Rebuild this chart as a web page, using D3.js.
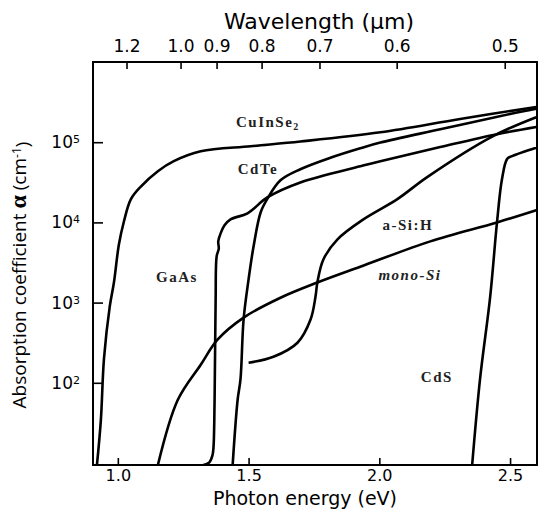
<!DOCTYPE html>
<html>
<head>
<meta charset="utf-8">
<script src="https://cdn.jsdelivr.net/npm/d3@7"></script>
<style>
  body { margin: 0; background: #fff; }
  svg { display: block; }
</style>
</head>
<body>
<svg width="539" height="511"></svg>
<script>
// ticks
var energyTicks = [1.0, 1.5, 2.0, 2.5];
var wavelengthTicks = [1.2, 1.0, 0.9, 0.8, 0.7, 0.6, 0.5];
var alphaTicks = [1e2, 1e3, 1e4, 1e5];
var hc = 1.2398; // eV*um

// curves: [photon energy (eV), alpha (cm^-1)]
var cuInSe2 = [[0.920, 9.4], [0.935, 34], [0.947, 200], [0.969, 890], [0.985, 1780], [1.004, 5300],
  [1.023, 10200], [1.050, 19500], [1.088, 28000], [1.153, 43500], [1.214, 58000], [1.317, 77000],
  [1.508, 89000], [1.698, 102000], [2.004, 133000], [2.309, 195000], [2.60, 275000]];
var gaAs = [[1.325, 9.4], [1.350, 10.2], [1.362, 12.5], [1.366, 16], [1.370, 61], [1.374, 1090],
  [1.378, 3800], [1.386, 4700], [1.384, 5800], [1.393, 7300], [1.408, 9200], [1.431, 10900],
  [1.496, 13000], [1.573, 20600], [1.698, 31500], [1.927, 50000], [2.004, 58000], [2.233, 87000],
  [2.450, 126000], [2.60, 155000]];
var cdTe = [[1.439, 9.4], [1.458, 61], [1.469, 110], [1.481, 620], [1.500, 1950], [1.519, 5000],
  [1.546, 13300], [1.573, 20000], [1.622, 33500], [1.698, 46000], [1.813, 64000], [1.927, 84000],
  [2.004, 99000], [2.233, 145000], [2.500, 225000], [2.60, 262000]];
var aSiH = [[1.500, 178], [1.595, 211], [1.687, 316], [1.737, 615], [1.756, 1190], [1.763, 1780],
  [1.786, 3450], [1.840, 6150], [1.939, 10900], [2.069, 19500], [2.183, 36700], [2.435, 119000],
  [2.60, 205000]];
var monoSi = [[1.153, 9.4], [1.229, 61], [1.317, 168], [1.382, 347], [1.481, 650], [1.622, 1150],
  [1.763, 1780], [1.927, 2800], [2.195, 5800], [2.450, 10000], [2.60, 14200]];
var cdS = [[2.355, 9.4], [2.385, 110], [2.424, 1190], [2.450, 10000], [2.469, 34500], [2.489, 62000],
  [2.508, 67000], [2.60, 85000]];

var curveNames = ["CuInSe2", "GaAs", "CdTe", "a-Si:H", "mono-Si", "CdS"];
var curveData = [cuInSe2, gaAs, cdTe, aSiH, monoSi, cdS];
// label anchor points (eV, cm^-1)
var labelE = [1.574, 1.226, 1.536, 2.109, 2.117, 2.22];
var labelA = [182000, 2110, 46000, 9400, 2240, 119];

var svg = d3.select("svg"),
    plotLeft = 93, plotRight = 537, plotTop = 62, plotBottom = 465;

var x = d3.scaleLinear()
    .domain([0.905, 2.603])
    .range([plotLeft, plotRight]);

var y = d3.scaleLog()
    .domain([Math.pow(10, 0.975), 1e6])
    .range([plotBottom, plotTop]);

svg.append("clipPath").attr("id", "plot")
  .append("rect")
    .attr("x", plotLeft).attr("y", plotTop)
    .attr("width", plotRight - plotLeft).attr("height", plotBottom - plotTop);

var line = d3.line()
    .x(function(d) { return x(d[0]); })
    .y(function(d) { return y(d[1]); })
    .curve(d3.curveCatmullRom.alpha(0.5));

svg.append("g")
    .attr("clip-path", "url(#plot)")
  .selectAll("path")
  .data(curveData)
  .enter().append("path")
    .attr("d", line)
    .attr("fill", "none")
    .attr("stroke", "#000")
    .attr("stroke-width", 2.6)
    .attr("stroke-linejoin", "round");

// frame
svg.append("rect")
    .attr("x", plotLeft).attr("y", plotTop)
    .attr("width", plotRight - plotLeft).attr("height", plotBottom - plotTop)
    .attr("fill", "none")
    .attr("stroke", "#000")
    .attr("stroke-width", 2);

var axisFont = "DejaVu Sans";

var xAxis = d3.axisBottom(x)
    .tickValues(energyTicks)
    .tickFormat(d3.format(".1f"))
    .tickSizeInner(-7)
    .tickSizeOuter(0)
    .tickPadding(5);

var topAxis = d3.axisTop(x)
    .tickValues(wavelengthTicks.map(function(l) { return hc / l; }))
    .tickFormat(function(e) { return d3.format(".1f")(hc / e); })
    .tickSizeInner(-7)
    .tickSizeOuter(0)
    .tickPadding(10);

var yAxis = d3.axisLeft(y)
    .tickValues(alphaTicks)
    .tickSizeInner(-10)
    .tickSizeOuter(0)
    .tickPadding(13);

function styleAxis(g) {
  g.select(".domain").remove();
  g.selectAll(".tick line").attr("stroke", "#000").attr("stroke-width", 1.6);
  g.selectAll(".tick text")
      .attr("fill", "#000")
      .style("font-family", axisFont)
      .style("font-size", "17px");
}

svg.append("g")
    .attr("transform", "translate(0," + plotBottom + ")")
    .call(xAxis)
    .call(styleAxis)
    .call(function(g) { g.selectAll(".tick text").style("font-size", "16px"); });

svg.append("g")
    .attr("transform", "translate(0," + plotTop + ")")
    .call(topAxis)
    .call(styleAxis);

svg.append("g")
    .attr("transform", "translate(" + plotLeft + ",0)")
    .call(yAxis)
    .call(styleAxis)
    .call(function(g) {
      g.selectAll(".tick text").each(function(d) {
        var t = d3.select(this).text(null);
        t.append("tspan").text("10");
        t.append("tspan")
            .attr("dy", "-0.45em")
            .style("font-size", "11px")
            .text(Math.round(Math.log10(d)));
      });
    });

// axis titles
svg.append("text")
    .attr("x", 319).attr("y", 29)
    .attr("text-anchor", "middle")
    .style("font-family", axisFont)
    .style("font-size", "22px")
    .text("Wavelength (\u03bcm)");

svg.append("text")
    .attr("x", 305).attr("y", 505)
    .attr("text-anchor", "middle")
    .style("font-family", axisFont)
    .style("font-size", "19px")
    .text("Photon energy (eV)");

var yTitle = svg.append("text")
    .attr("transform", "translate(26," + 275 + ") rotate(-90)")
    .attr("text-anchor", "middle")
    .style("font-family", "Open Sans")
    .style("font-size", "19px");
yTitle.append("tspan").text("Absorption coefficient ");
yTitle.append("tspan")
    .style("font-family", "Liberation Serif")
    .style("font-weight", "bold")
    .style("font-size", "24px")
    .text("\u03b1");
yTitle.append("tspan").text(" (cm");
yTitle.append("tspan").attr("dy", "-0.45em").style("font-size", "12px").text("-1");
yTitle.append("tspan").attr("dy", "0.45em").text(")");

// curve labels
var labels = svg.append("g")
    .style("font-family", "Liberation Serif")
    .style("font-weight", "bold")
    .style("font-size", "15px")
    .style("letter-spacing", "1.5px")
    .attr("fill", "#222");

curveNames.forEach(function(name, i) {
  var t = labels.append("text")
      .attr("x", x(labelE[i]))
      .attr("y", y(labelA[i]))
      .attr("dy", "0.35em")
      .attr("text-anchor", "middle");
  if (name === "CuInSe2") {
    t.append("tspan").text("CuInSe");
    t.append("tspan").attr("dy", "0.3em").style("font-size", "10px").text("2");
  } else if (name === "mono-Si") {
    t.style("font-style", "italic").text(name);
  } else {
    t.text(name);
  }
});
</script>
</body>
</html>
